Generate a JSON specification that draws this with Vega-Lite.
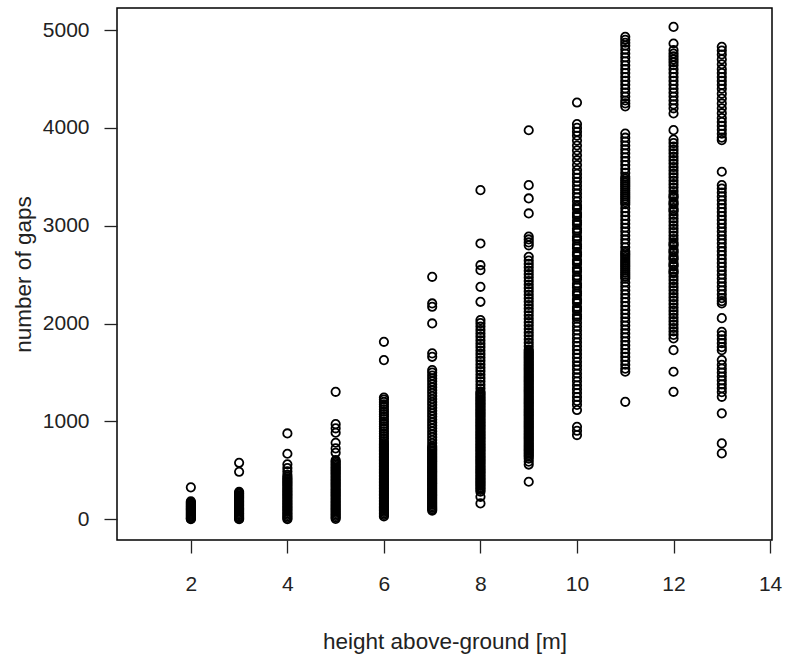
{
"$schema": "https://vega.github.io/schema/vega-lite/v6.json",
"width": 655, "height": 532,
"autosize": {"type": "none"},
"padding": {"left": 117, "top": 8, "right": 18, "bottom": 119},
"background": "white",
"config": {"view": {"stroke": "#000", "strokeWidth": 1.5}, "axis": {"labelFont": "Liberation Sans", "titleFont": "Liberation Sans", "labelColor": "#222", "titleColor": "#222", "tickColor": "#222", "tickWidth": 1.3, "grid": false, "domain": false, "labelFontSize": 21, "titleFontSize": 22.5, "titleFontWeight": "normal"}},
"datasets": {"pts": [
{"height":2,"gaps":327},{"height":2,"gaps":185},{"height":2,"gaps":175},{"height":2,"gaps":165},{"height":2,"gaps":155},{"height":2,"gaps":145},{"height":2,"gaps":135},{"height":2,"gaps":125},{"height":2,"gaps":115},{"height":2,"gaps":105},{"height":2,"gaps":95},{"height":2,"gaps":85},{"height":2,"gaps":75},{"height":2,"gaps":65},{"height":2,"gaps":55},{"height":2,"gaps":45},{"height":2,"gaps":35},{"height":2,"gaps":25},{"height":2,"gaps":15},{"height":2,"gaps":8},{"height":2,"gaps":2},
{"height":3,"gaps":578},{"height":3,"gaps":486},{"height":3,"gaps":282},{"height":3,"gaps":270},{"height":3,"gaps":258},{"height":3,"gaps":246},{"height":3,"gaps":234},{"height":3,"gaps":222},{"height":3,"gaps":210},{"height":3,"gaps":198},{"height":3,"gaps":186},{"height":3,"gaps":174},{"height":3,"gaps":162},{"height":3,"gaps":150},{"height":3,"gaps":138},{"height":3,"gaps":126},{"height":3,"gaps":114},{"height":3,"gaps":102},{"height":3,"gaps":90},{"height":3,"gaps":78},{"height":3,"gaps":66},{"height":3,"gaps":54},{"height":3,"gaps":42},{"height":3,"gaps":30},{"height":3,"gaps":18},{"height":3,"gaps":8},{"height":3,"gaps":2},
{"height":4,"gaps":878},{"height":4,"gaps":670},{"height":4,"gaps":562},{"height":4,"gaps":524},{"height":4,"gaps":490},{"height":4,"gaps":455},{"height":4,"gaps":435},{"height":4,"gaps":420},{"height":4,"gaps":405},{"height":4,"gaps":390},{"height":4,"gaps":375},{"height":4,"gaps":360},{"height":4,"gaps":345},{"height":4,"gaps":330},{"height":4,"gaps":315},{"height":4,"gaps":300},{"height":4,"gaps":285},{"height":4,"gaps":270},{"height":4,"gaps":255},{"height":4,"gaps":240},{"height":4,"gaps":225},{"height":4,"gaps":210},{"height":4,"gaps":195},{"height":4,"gaps":180},{"height":4,"gaps":165},{"height":4,"gaps":150},{"height":4,"gaps":135},{"height":4,"gaps":120},{"height":4,"gaps":105},{"height":4,"gaps":90},{"height":4,"gaps":75},{"height":4,"gaps":60},{"height":4,"gaps":45},{"height":4,"gaps":30},{"height":4,"gaps":15},{"height":4,"gaps":2},
{"height":5,"gaps":1303},{"height":5,"gaps":973},{"height":5,"gaps":930},{"height":5,"gaps":885},{"height":5,"gaps":783},{"height":5,"gaps":725},{"height":5,"gaps":680},{"height":5,"gaps":605},{"height":5,"gaps":590},{"height":5,"gaps":575},{"height":5,"gaps":560},{"height":5,"gaps":545},{"height":5,"gaps":530},{"height":5,"gaps":515},{"height":5,"gaps":500},{"height":5,"gaps":485},{"height":5,"gaps":470},{"height":5,"gaps":455},{"height":5,"gaps":440},{"height":5,"gaps":425},{"height":5,"gaps":410},{"height":5,"gaps":395},{"height":5,"gaps":380},{"height":5,"gaps":365},{"height":5,"gaps":350},{"height":5,"gaps":335},{"height":5,"gaps":320},{"height":5,"gaps":305},{"height":5,"gaps":290},{"height":5,"gaps":275},{"height":5,"gaps":260},{"height":5,"gaps":245},{"height":5,"gaps":230},{"height":5,"gaps":215},{"height":5,"gaps":200},{"height":5,"gaps":185},{"height":5,"gaps":170},{"height":5,"gaps":155},{"height":5,"gaps":140},{"height":5,"gaps":125},{"height":5,"gaps":110},{"height":5,"gaps":95},{"height":5,"gaps":80},{"height":5,"gaps":65},{"height":5,"gaps":50},{"height":5,"gaps":35},{"height":5,"gaps":20},{"height":5,"gaps":5},
{"height":6,"gaps":1814},{"height":6,"gaps":1627},{"height":6,"gaps":1245},{"height":6,"gaps":1225},{"height":6,"gaps":1200},{"height":6,"gaps":1175},{"height":6,"gaps":1150},{"height":6,"gaps":1125},{"height":6,"gaps":1100},{"height":6,"gaps":1075},{"height":6,"gaps":1050},{"height":6,"gaps":1025},{"height":6,"gaps":1000},{"height":6,"gaps":975},{"height":6,"gaps":950},{"height":6,"gaps":925},{"height":6,"gaps":900},{"height":6,"gaps":875},{"height":6,"gaps":850},{"height":6,"gaps":825},{"height":6,"gaps":800},{"height":6,"gaps":780},{"height":6,"gaps":765},{"height":6,"gaps":750},{"height":6,"gaps":735},{"height":6,"gaps":720},{"height":6,"gaps":705},{"height":6,"gaps":690},{"height":6,"gaps":675},{"height":6,"gaps":660},{"height":6,"gaps":645},{"height":6,"gaps":630},{"height":6,"gaps":615},{"height":6,"gaps":600},{"height":6,"gaps":585},{"height":6,"gaps":570},{"height":6,"gaps":555},{"height":6,"gaps":540},{"height":6,"gaps":525},{"height":6,"gaps":510},{"height":6,"gaps":495},{"height":6,"gaps":480},{"height":6,"gaps":465},{"height":6,"gaps":450},{"height":6,"gaps":435},{"height":6,"gaps":420},{"height":6,"gaps":405},{"height":6,"gaps":390},{"height":6,"gaps":375},{"height":6,"gaps":360},{"height":6,"gaps":345},{"height":6,"gaps":330},{"height":6,"gaps":315},{"height":6,"gaps":300},{"height":6,"gaps":285},{"height":6,"gaps":270},{"height":6,"gaps":255},{"height":6,"gaps":240},{"height":6,"gaps":225},{"height":6,"gaps":210},{"height":6,"gaps":195},{"height":6,"gaps":180},{"height":6,"gaps":165},{"height":6,"gaps":150},{"height":6,"gaps":135},{"height":6,"gaps":120},{"height":6,"gaps":105},{"height":6,"gaps":90},{"height":6,"gaps":75},{"height":6,"gaps":60},{"height":6,"gaps":45},{"height":6,"gaps":30},
{"height":7,"gaps":2478},{"height":7,"gaps":2206},{"height":7,"gaps":2172},{"height":7,"gaps":2002},{"height":7,"gaps":1696},{"height":7,"gaps":1661},{"height":7,"gaps":1525},{"height":7,"gaps":1500},{"height":7,"gaps":1470},{"height":7,"gaps":1440},{"height":7,"gaps":1410},{"height":7,"gaps":1380},{"height":7,"gaps":1350},{"height":7,"gaps":1320},{"height":7,"gaps":1290},{"height":7,"gaps":1260},{"height":7,"gaps":1230},{"height":7,"gaps":1200},{"height":7,"gaps":1170},{"height":7,"gaps":1140},{"height":7,"gaps":1110},{"height":7,"gaps":1080},{"height":7,"gaps":1050},{"height":7,"gaps":1020},{"height":7,"gaps":990},{"height":7,"gaps":960},{"height":7,"gaps":930},{"height":7,"gaps":900},{"height":7,"gaps":870},{"height":7,"gaps":840},{"height":7,"gaps":810},{"height":7,"gaps":780},{"height":7,"gaps":750},{"height":7,"gaps":735},{"height":7,"gaps":720},{"height":7,"gaps":705},{"height":7,"gaps":690},{"height":7,"gaps":675},{"height":7,"gaps":660},{"height":7,"gaps":645},{"height":7,"gaps":630},{"height":7,"gaps":615},{"height":7,"gaps":600},{"height":7,"gaps":585},{"height":7,"gaps":570},{"height":7,"gaps":555},{"height":7,"gaps":540},{"height":7,"gaps":525},{"height":7,"gaps":510},{"height":7,"gaps":495},{"height":7,"gaps":480},{"height":7,"gaps":465},{"height":7,"gaps":450},{"height":7,"gaps":435},{"height":7,"gaps":420},{"height":7,"gaps":405},{"height":7,"gaps":390},{"height":7,"gaps":375},{"height":7,"gaps":360},{"height":7,"gaps":345},{"height":7,"gaps":330},{"height":7,"gaps":315},{"height":7,"gaps":300},{"height":7,"gaps":285},{"height":7,"gaps":270},{"height":7,"gaps":255},{"height":7,"gaps":240},{"height":7,"gaps":225},{"height":7,"gaps":210},{"height":7,"gaps":195},{"height":7,"gaps":180},{"height":7,"gaps":165},{"height":7,"gaps":150},{"height":7,"gaps":135},{"height":7,"gaps":120},{"height":7,"gaps":105},{"height":7,"gaps":90},
{"height":8,"gaps":3364},{"height":8,"gaps":2819},{"height":8,"gaps":2597},{"height":8,"gaps":2546},{"height":8,"gaps":2376},{"height":8,"gaps":2223},{"height":8,"gaps":2036},{"height":8,"gaps":2005},{"height":8,"gaps":1970},{"height":8,"gaps":1935},{"height":8,"gaps":1900},{"height":8,"gaps":1865},{"height":8,"gaps":1830},{"height":8,"gaps":1795},{"height":8,"gaps":1760},{"height":8,"gaps":1725},{"height":8,"gaps":1690},{"height":8,"gaps":1655},{"height":8,"gaps":1620},{"height":8,"gaps":1585},{"height":8,"gaps":1550},{"height":8,"gaps":1515},{"height":8,"gaps":1480},{"height":8,"gaps":1445},{"height":8,"gaps":1410},{"height":8,"gaps":1375},{"height":8,"gaps":1340},{"height":8,"gaps":1305},{"height":8,"gaps":1290},{"height":8,"gaps":1275},{"height":8,"gaps":1260},{"height":8,"gaps":1245},{"height":8,"gaps":1230},{"height":8,"gaps":1215},{"height":8,"gaps":1200},{"height":8,"gaps":1185},{"height":8,"gaps":1170},{"height":8,"gaps":1155},{"height":8,"gaps":1140},{"height":8,"gaps":1125},{"height":8,"gaps":1110},{"height":8,"gaps":1095},{"height":8,"gaps":1080},{"height":8,"gaps":1065},{"height":8,"gaps":1050},{"height":8,"gaps":1035},{"height":8,"gaps":1020},{"height":8,"gaps":1005},{"height":8,"gaps":990},{"height":8,"gaps":975},{"height":8,"gaps":960},{"height":8,"gaps":945},{"height":8,"gaps":930},{"height":8,"gaps":915},{"height":8,"gaps":900},{"height":8,"gaps":885},{"height":8,"gaps":870},{"height":8,"gaps":855},{"height":8,"gaps":840},{"height":8,"gaps":825},{"height":8,"gaps":810},{"height":8,"gaps":795},{"height":8,"gaps":780},{"height":8,"gaps":765},{"height":8,"gaps":750},{"height":8,"gaps":735},{"height":8,"gaps":720},{"height":8,"gaps":705},{"height":8,"gaps":690},{"height":8,"gaps":675},{"height":8,"gaps":660},{"height":8,"gaps":645},{"height":8,"gaps":630},{"height":8,"gaps":615},{"height":8,"gaps":600},{"height":8,"gaps":585},{"height":8,"gaps":570},{"height":8,"gaps":555},{"height":8,"gaps":540},{"height":8,"gaps":525},{"height":8,"gaps":510},{"height":8,"gaps":495},{"height":8,"gaps":480},{"height":8,"gaps":465},{"height":8,"gaps":450},{"height":8,"gaps":435},{"height":8,"gaps":420},{"height":8,"gaps":405},{"height":8,"gaps":390},{"height":8,"gaps":375},{"height":8,"gaps":360},{"height":8,"gaps":345},{"height":8,"gaps":330},{"height":8,"gaps":315},{"height":8,"gaps":300},{"height":8,"gaps":282},{"height":8,"gaps":230},{"height":8,"gaps":163},
{"height":9,"gaps":3976},{"height":9,"gaps":3415},{"height":9,"gaps":3279},{"height":9,"gaps":3126},{"height":9,"gaps":2890},{"height":9,"gaps":2860},{"height":9,"gaps":2830},{"height":9,"gaps":2800},{"height":9,"gaps":2683},{"height":9,"gaps":2645},{"height":9,"gaps":2610},{"height":9,"gaps":2575},{"height":9,"gaps":2540},{"height":9,"gaps":2505},{"height":9,"gaps":2470},{"height":9,"gaps":2435},{"height":9,"gaps":2400},{"height":9,"gaps":2365},{"height":9,"gaps":2330},{"height":9,"gaps":2295},{"height":9,"gaps":2260},{"height":9,"gaps":2225},{"height":9,"gaps":2190},{"height":9,"gaps":2155},{"height":9,"gaps":2120},{"height":9,"gaps":2085},{"height":9,"gaps":2050},{"height":9,"gaps":2015},{"height":9,"gaps":1980},{"height":9,"gaps":1945},{"height":9,"gaps":1910},{"height":9,"gaps":1875},{"height":9,"gaps":1840},{"height":9,"gaps":1805},{"height":9,"gaps":1770},{"height":9,"gaps":1735},{"height":9,"gaps":1720},{"height":9,"gaps":1705},{"height":9,"gaps":1690},{"height":9,"gaps":1675},{"height":9,"gaps":1660},{"height":9,"gaps":1645},{"height":9,"gaps":1630},{"height":9,"gaps":1615},{"height":9,"gaps":1600},{"height":9,"gaps":1585},{"height":9,"gaps":1570},{"height":9,"gaps":1555},{"height":9,"gaps":1540},{"height":9,"gaps":1525},{"height":9,"gaps":1510},{"height":9,"gaps":1495},{"height":9,"gaps":1480},{"height":9,"gaps":1465},{"height":9,"gaps":1450},{"height":9,"gaps":1435},{"height":9,"gaps":1420},{"height":9,"gaps":1405},{"height":9,"gaps":1390},{"height":9,"gaps":1375},{"height":9,"gaps":1360},{"height":9,"gaps":1345},{"height":9,"gaps":1330},{"height":9,"gaps":1315},{"height":9,"gaps":1300},{"height":9,"gaps":1285},{"height":9,"gaps":1270},{"height":9,"gaps":1255},{"height":9,"gaps":1240},{"height":9,"gaps":1225},{"height":9,"gaps":1210},{"height":9,"gaps":1195},{"height":9,"gaps":1180},{"height":9,"gaps":1165},{"height":9,"gaps":1150},{"height":9,"gaps":1135},{"height":9,"gaps":1120},{"height":9,"gaps":1105},{"height":9,"gaps":1090},{"height":9,"gaps":1075},{"height":9,"gaps":1060},{"height":9,"gaps":1045},{"height":9,"gaps":1030},{"height":9,"gaps":1015},{"height":9,"gaps":1000},{"height":9,"gaps":985},{"height":9,"gaps":970},{"height":9,"gaps":955},{"height":9,"gaps":940},{"height":9,"gaps":925},{"height":9,"gaps":910},{"height":9,"gaps":895},{"height":9,"gaps":880},{"height":9,"gaps":865},{"height":9,"gaps":850},{"height":9,"gaps":835},{"height":9,"gaps":820},{"height":9,"gaps":805},{"height":9,"gaps":790},{"height":9,"gaps":775},{"height":9,"gaps":760},{"height":9,"gaps":745},{"height":9,"gaps":730},{"height":9,"gaps":715},{"height":9,"gaps":700},{"height":9,"gaps":685},{"height":9,"gaps":670},{"height":9,"gaps":655},{"height":9,"gaps":640},{"height":9,"gaps":620},{"height":9,"gaps":590},{"height":9,"gaps":560},{"height":9,"gaps":384},
{"height":10,"gaps":4259},{"height":10,"gaps":4040},{"height":10,"gaps":4000},{"height":10,"gaps":3960},{"height":10,"gaps":3920},{"height":10,"gaps":3870},{"height":10,"gaps":3820},{"height":10,"gaps":3770},{"height":10,"gaps":3720},{"height":10,"gaps":3670},{"height":10,"gaps":3620},{"height":10,"gaps":3570},{"height":10,"gaps":3530},{"height":10,"gaps":3490},{"height":10,"gaps":3450},{"height":10,"gaps":3410},{"height":10,"gaps":3370},{"height":10,"gaps":3330},{"height":10,"gaps":3290},{"height":10,"gaps":3250},{"height":10,"gaps":3210},{"height":10,"gaps":3190},{"height":10,"gaps":3170},{"height":10,"gaps":3130},{"height":10,"gaps":3110},{"height":10,"gaps":3090},{"height":10,"gaps":3050},{"height":10,"gaps":3030},{"height":10,"gaps":3010},{"height":10,"gaps":2970},{"height":10,"gaps":2950},{"height":10,"gaps":2930},{"height":10,"gaps":2890},{"height":10,"gaps":2870},{"height":10,"gaps":2850},{"height":10,"gaps":2810},{"height":10,"gaps":2790},{"height":10,"gaps":2770},{"height":10,"gaps":2730},{"height":10,"gaps":2710},{"height":10,"gaps":2690},{"height":10,"gaps":2650},{"height":10,"gaps":2630},{"height":10,"gaps":2610},{"height":10,"gaps":2570},{"height":10,"gaps":2550},{"height":10,"gaps":2530},{"height":10,"gaps":2490},{"height":10,"gaps":2470},{"height":10,"gaps":2450},{"height":10,"gaps":2410},{"height":10,"gaps":2390},{"height":10,"gaps":2370},{"height":10,"gaps":2330},{"height":10,"gaps":2310},{"height":10,"gaps":2290},{"height":10,"gaps":2250},{"height":10,"gaps":2230},{"height":10,"gaps":2210},{"height":10,"gaps":2170},{"height":10,"gaps":2150},{"height":10,"gaps":2130},{"height":10,"gaps":2090},{"height":10,"gaps":2070},{"height":10,"gaps":2050},{"height":10,"gaps":2010},{"height":10,"gaps":1970},{"height":10,"gaps":1930},{"height":10,"gaps":1890},{"height":10,"gaps":1850},{"height":10,"gaps":1810},{"height":10,"gaps":1770},{"height":10,"gaps":1730},{"height":10,"gaps":1690},{"height":10,"gaps":1650},{"height":10,"gaps":1610},{"height":10,"gaps":1570},{"height":10,"gaps":1530},{"height":10,"gaps":1490},{"height":10,"gaps":1450},{"height":10,"gaps":1410},{"height":10,"gaps":1370},{"height":10,"gaps":1330},{"height":10,"gaps":1290},{"height":10,"gaps":1250},{"height":10,"gaps":1210},{"height":10,"gaps":1170},{"height":10,"gaps":1117},{"height":10,"gaps":946},{"height":10,"gaps":905},{"height":10,"gaps":861},
{"height":11,"gaps":4930},{"height":11,"gaps":4900},{"height":11,"gaps":4870},{"height":11,"gaps":4840},{"height":11,"gaps":4800},{"height":11,"gaps":4760},{"height":11,"gaps":4720},{"height":11,"gaps":4680},{"height":11,"gaps":4640},{"height":11,"gaps":4600},{"height":11,"gaps":4560},{"height":11,"gaps":4520},{"height":11,"gaps":4480},{"height":11,"gaps":4440},{"height":11,"gaps":4400},{"height":11,"gaps":4360},{"height":11,"gaps":4320},{"height":11,"gaps":4280},{"height":11,"gaps":4250},{"height":11,"gaps":4220},{"height":11,"gaps":3942},{"height":11,"gaps":3900},{"height":11,"gaps":3860},{"height":11,"gaps":3820},{"height":11,"gaps":3780},{"height":11,"gaps":3740},{"height":11,"gaps":3700},{"height":11,"gaps":3660},{"height":11,"gaps":3620},{"height":11,"gaps":3580},{"height":11,"gaps":3540},{"height":11,"gaps":3500},{"height":11,"gaps":3480},{"height":11,"gaps":3460},{"height":11,"gaps":3440},{"height":11,"gaps":3420},{"height":11,"gaps":3400},{"height":11,"gaps":3380},{"height":11,"gaps":3360},{"height":11,"gaps":3340},{"height":11,"gaps":3320},{"height":11,"gaps":3300},{"height":11,"gaps":3280},{"height":11,"gaps":3260},{"height":11,"gaps":3240},{"height":11,"gaps":3220},{"height":11,"gaps":3180},{"height":11,"gaps":3140},{"height":11,"gaps":3100},{"height":11,"gaps":3060},{"height":11,"gaps":3020},{"height":11,"gaps":2980},{"height":11,"gaps":2940},{"height":11,"gaps":2900},{"height":11,"gaps":2860},{"height":11,"gaps":2820},{"height":11,"gaps":2780},{"height":11,"gaps":2740},{"height":11,"gaps":2720},{"height":11,"gaps":2700},{"height":11,"gaps":2680},{"height":11,"gaps":2660},{"height":11,"gaps":2640},{"height":11,"gaps":2620},{"height":11,"gaps":2600},{"height":11,"gaps":2580},{"height":11,"gaps":2560},{"height":11,"gaps":2540},{"height":11,"gaps":2520},{"height":11,"gaps":2500},{"height":11,"gaps":2480},{"height":11,"gaps":2460},{"height":11,"gaps":2420},{"height":11,"gaps":2380},{"height":11,"gaps":2340},{"height":11,"gaps":2300},{"height":11,"gaps":2260},{"height":11,"gaps":2220},{"height":11,"gaps":2180},{"height":11,"gaps":2140},{"height":11,"gaps":2100},{"height":11,"gaps":2060},{"height":11,"gaps":2020},{"height":11,"gaps":1980},{"height":11,"gaps":1940},{"height":11,"gaps":1900},{"height":11,"gaps":1860},{"height":11,"gaps":1820},{"height":11,"gaps":1780},{"height":11,"gaps":1740},{"height":11,"gaps":1700},{"height":11,"gaps":1660},{"height":11,"gaps":1620},{"height":11,"gaps":1580},{"height":11,"gaps":1540},{"height":11,"gaps":1508},{"height":11,"gaps":1201},
{"height":12,"gaps":5032},{"height":12,"gaps":4862},{"height":12,"gaps":4794},{"height":12,"gaps":4760},{"height":12,"gaps":4730},{"height":12,"gaps":4700},{"height":12,"gaps":4670},{"height":12,"gaps":4640},{"height":12,"gaps":4600},{"height":12,"gaps":4560},{"height":12,"gaps":4520},{"height":12,"gaps":4480},{"height":12,"gaps":4440},{"height":12,"gaps":4400},{"height":12,"gaps":4360},{"height":12,"gaps":4320},{"height":12,"gaps":4280},{"height":12,"gaps":4240},{"height":12,"gaps":4200},{"height":12,"gaps":4147},{"height":12,"gaps":3977},{"height":12,"gaps":3880},{"height":12,"gaps":3845},{"height":12,"gaps":3810},{"height":12,"gaps":3775},{"height":12,"gaps":3740},{"height":12,"gaps":3705},{"height":12,"gaps":3670},{"height":12,"gaps":3635},{"height":12,"gaps":3600},{"height":12,"gaps":3565},{"height":12,"gaps":3530},{"height":12,"gaps":3495},{"height":12,"gaps":3460},{"height":12,"gaps":3425},{"height":12,"gaps":3390},{"height":12,"gaps":3355},{"height":12,"gaps":3320},{"height":12,"gaps":3300},{"height":12,"gaps":3285},{"height":12,"gaps":3250},{"height":12,"gaps":3230},{"height":12,"gaps":3215},{"height":12,"gaps":3180},{"height":12,"gaps":3160},{"height":12,"gaps":3145},{"height":12,"gaps":3110},{"height":12,"gaps":3075},{"height":12,"gaps":3040},{"height":12,"gaps":3005},{"height":12,"gaps":2970},{"height":12,"gaps":2935},{"height":12,"gaps":2900},{"height":12,"gaps":2865},{"height":12,"gaps":2830},{"height":12,"gaps":2810},{"height":12,"gaps":2795},{"height":12,"gaps":2760},{"height":12,"gaps":2740},{"height":12,"gaps":2725},{"height":12,"gaps":2690},{"height":12,"gaps":2670},{"height":12,"gaps":2655},{"height":12,"gaps":2620},{"height":12,"gaps":2600},{"height":12,"gaps":2585},{"height":12,"gaps":2550},{"height":12,"gaps":2530},{"height":12,"gaps":2515},{"height":12,"gaps":2480},{"height":12,"gaps":2445},{"height":12,"gaps":2410},{"height":12,"gaps":2375},{"height":12,"gaps":2340},{"height":12,"gaps":2305},{"height":12,"gaps":2270},{"height":12,"gaps":2235},{"height":12,"gaps":2200},{"height":12,"gaps":2165},{"height":12,"gaps":2130},{"height":12,"gaps":2095},{"height":12,"gaps":2060},{"height":12,"gaps":2025},{"height":12,"gaps":1990},{"height":12,"gaps":1955},{"height":12,"gaps":1920},{"height":12,"gaps":1885},{"height":12,"gaps":1849},{"height":12,"gaps":1729},{"height":12,"gaps":1508},{"height":12,"gaps":1303},
{"height":13,"gaps":4828},{"height":13,"gaps":4790},{"height":13,"gaps":4750},{"height":13,"gaps":4700},{"height":13,"gaps":4650},{"height":13,"gaps":4600},{"height":13,"gaps":4560},{"height":13,"gaps":4520},{"height":13,"gaps":4480},{"height":13,"gaps":4440},{"height":13,"gaps":4400},{"height":13,"gaps":4350},{"height":13,"gaps":4300},{"height":13,"gaps":4250},{"height":13,"gaps":4200},{"height":13,"gaps":4150},{"height":13,"gaps":4100},{"height":13,"gaps":4060},{"height":13,"gaps":4020},{"height":13,"gaps":3980},{"height":13,"gaps":3940},{"height":13,"gaps":3900},{"height":13,"gaps":3875},{"height":13,"gaps":3552},{"height":13,"gaps":3415},{"height":13,"gaps":3380},{"height":13,"gaps":3340},{"height":13,"gaps":3300},{"height":13,"gaps":3260},{"height":13,"gaps":3220},{"height":13,"gaps":3180},{"height":13,"gaps":3140},{"height":13,"gaps":3100},{"height":13,"gaps":3060},{"height":13,"gaps":3020},{"height":13,"gaps":2980},{"height":13,"gaps":2940},{"height":13,"gaps":2900},{"height":13,"gaps":2860},{"height":13,"gaps":2820},{"height":13,"gaps":2780},{"height":13,"gaps":2740},{"height":13,"gaps":2700},{"height":13,"gaps":2660},{"height":13,"gaps":2620},{"height":13,"gaps":2580},{"height":13,"gaps":2540},{"height":13,"gaps":2500},{"height":13,"gaps":2460},{"height":13,"gaps":2420},{"height":13,"gaps":2380},{"height":13,"gaps":2340},{"height":13,"gaps":2300},{"height":13,"gaps":2260},{"height":13,"gaps":2230},{"height":13,"gaps":2206},{"height":13,"gaps":2056},{"height":13,"gaps":1916},{"height":13,"gaps":1880},{"height":13,"gaps":1840},{"height":13,"gaps":1800},{"height":13,"gaps":1760},{"height":13,"gaps":1729},{"height":13,"gaps":1627},{"height":13,"gaps":1580},{"height":13,"gaps":1540},{"height":13,"gaps":1500},{"height":13,"gaps":1460},{"height":13,"gaps":1420},{"height":13,"gaps":1380},{"height":13,"gaps":1340},{"height":13,"gaps":1300},{"height":13,"gaps":1252},{"height":13,"gaps":1083},{"height":13,"gaps":776},{"height":13,"gaps":674}
]},
"data": {"name": "pts"},
"mark": {"type": "point", "shape": "circle", "filled": false, "color": "#000", "strokeWidth": 1.8, "size": 70, "opacity": 1},
"encoding": {
  "x": {"field": "height", "type": "quantitative", "scale": {"domain": [0.47, 14.04], "nice": false, "zero": false},
        "axis": {"values": [2, 4, 6, 8, 10, 12, 14], "title": "height above-ground [m]", "tickSize": 13, "labelPadding": 20, "labelFlush": false, "titleY": 108, "titleBaseline": "alphabetic"}},
  "y": {"field": "gaps", "type": "quantitative", "scale": {"domain": [-211, 5225], "nice": false, "zero": false},
        "axis": {"values": [0, 1000, 2000, 3000, 4000, 5000], "title": "number of gaps", "format": "d", "tickSize": 13, "labelPadding": 15, "labelFlush": false, "titleX": -94, "titleY": 266, "titleAngle": -90, "titleAlign": "center", "titleBaseline": "middle"}}
}
}
